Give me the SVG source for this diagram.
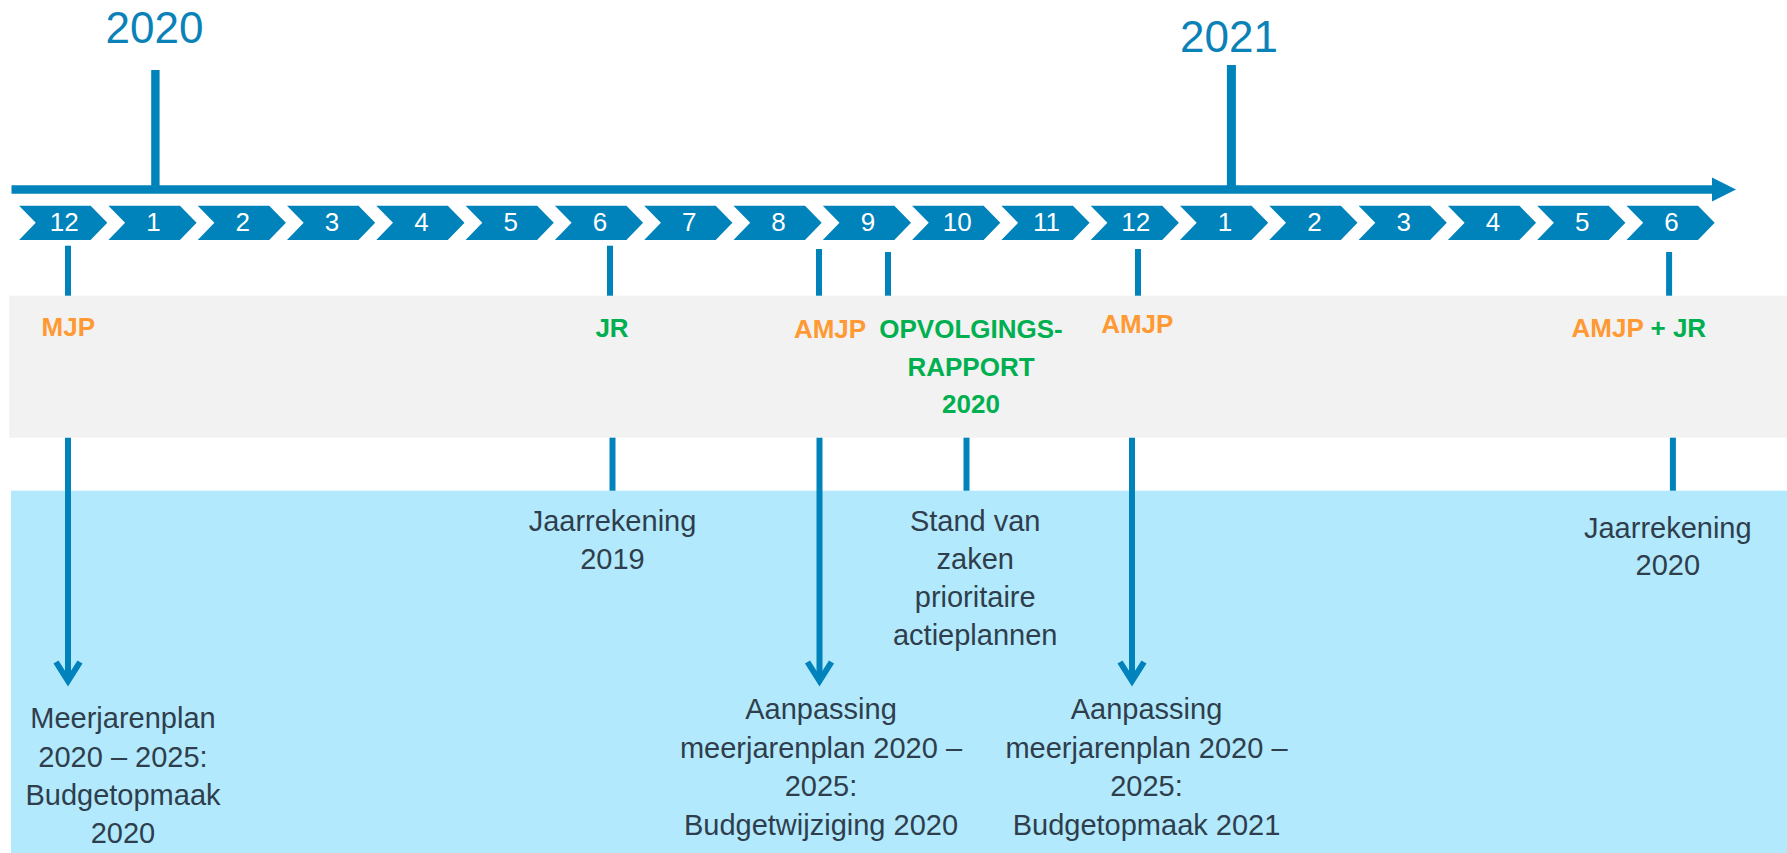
<svg xmlns="http://www.w3.org/2000/svg" xmlns:xlink="http://www.w3.org/1999/xlink" width="1787" height="853" viewBox="0 0 1787 853">
<style>
.bg{fill:#FFFFFF}
.grey{fill:#F2F2F2}
.lblue{fill:#B3E9FD}
.chev{fill:#0082BA}
.num{font-family:"Liberation Sans",Arial,sans-serif;font-size:26px;fill:#FFFFFF;text-anchor:middle}
.year{font-family:"Liberation Sans",Arial,sans-serif;font-size:44px;fill:#0A82B8;text-anchor:middle}
.tick{stroke:#0082BA;stroke-width:6;fill:none}
.head{stroke:#0082BA;stroke-width:6;fill:none;stroke-linejoin:miter;stroke-miterlimit:10}
.lab{font-family:"Liberation Sans",Arial,sans-serif;font-size:26px;font-weight:bold;text-anchor:middle}
.or{fill:#FF9933}
.gr{fill:#00B050}
.desc{font-family:"Liberation Sans",Arial,sans-serif;font-size:29px;fill:#2F3E4C;text-anchor:middle}
</style>
<defs>
<path id="chev" d="M0,0 H71.5 L88.2,17.15 L71.5,34.3 H0 L16.7,17.15 Z"/>
</defs>
<rect class="bg" x="0" y="0" width="1787" height="853"/>
<g id="bands">
<rect class="grey" x="9.2" y="295.7" width="1777.8" height="142"/>
<rect class="lblue" x="11" y="490.7" width="1776" height="362.3"/>
</g>
<g id="axis">
<line x1="11.5" y1="189.5" x2="1714" y2="189.5" stroke="#0082BA" stroke-width="8.3"/>
<polygon points="1712,177.5 1736,189.5 1712,201.5" fill="#0082BA"/>
<line x1="155.4" y1="70" x2="155.4" y2="190" stroke="#0082BA" stroke-width="8.4"/>
<line x1="1231.4" y1="65" x2="1231.4" y2="190" stroke="#0082BA" stroke-width="9"/>
</g>
<g id="year-2020"><text class="year" x="154.5" y="43.3">2020</text></g>
<g id="year-2021"><text class="year" x="1229" y="51.7">2021</text></g>
<g id="months">
<g id="m0"><use xlink:href="#chev" href="#chev" x="19.1" y="205.7" class="chev"/><text class="num" x="64.2" y="230.7">12</text></g>
<g id="m1"><use xlink:href="#chev" href="#chev" x="108.4" y="205.7" class="chev"/><text class="num" x="153.5" y="230.7">1</text></g>
<g id="m2"><use xlink:href="#chev" href="#chev" x="197.7" y="205.7" class="chev"/><text class="num" x="242.8" y="230.7">2</text></g>
<g id="m3"><use xlink:href="#chev" href="#chev" x="287" y="205.7" class="chev"/><text class="num" x="332.1" y="230.7">3</text></g>
<g id="m4"><use xlink:href="#chev" href="#chev" x="376.3" y="205.7" class="chev"/><text class="num" x="421.4" y="230.7">4</text></g>
<g id="m5"><use xlink:href="#chev" href="#chev" x="465.6" y="205.7" class="chev"/><text class="num" x="510.7" y="230.7">5</text></g>
<g id="m6"><use xlink:href="#chev" href="#chev" x="554.9" y="205.7" class="chev"/><text class="num" x="600" y="230.7">6</text></g>
<g id="m7"><use xlink:href="#chev" href="#chev" x="644.2" y="205.7" class="chev"/><text class="num" x="689.3" y="230.7">7</text></g>
<g id="m8"><use xlink:href="#chev" href="#chev" x="733.5" y="205.7" class="chev"/><text class="num" x="778.6" y="230.7">8</text></g>
<g id="m9"><use xlink:href="#chev" href="#chev" x="822.8" y="205.7" class="chev"/><text class="num" x="867.9" y="230.7">9</text></g>
<g id="m10"><use xlink:href="#chev" href="#chev" x="912.1" y="205.7" class="chev"/><text class="num" x="957.2" y="230.7">10</text></g>
<g id="m11"><use xlink:href="#chev" href="#chev" x="1001.4" y="205.7" class="chev"/><text class="num" x="1046.5" y="230.7">11</text></g>
<g id="m12"><use xlink:href="#chev" href="#chev" x="1090.7" y="205.7" class="chev"/><text class="num" x="1135.8" y="230.7">12</text></g>
<g id="m13"><use xlink:href="#chev" href="#chev" x="1180" y="205.7" class="chev"/><text class="num" x="1225.1" y="230.7">1</text></g>
<g id="m14"><use xlink:href="#chev" href="#chev" x="1269.3" y="205.7" class="chev"/><text class="num" x="1314.4" y="230.7">2</text></g>
<g id="m15"><use xlink:href="#chev" href="#chev" x="1358.6" y="205.7" class="chev"/><text class="num" x="1403.7" y="230.7">3</text></g>
<g id="m16"><use xlink:href="#chev" href="#chev" x="1447.9" y="205.7" class="chev"/><text class="num" x="1493" y="230.7">4</text></g>
<g id="m17"><use xlink:href="#chev" href="#chev" x="1537.2" y="205.7" class="chev"/><text class="num" x="1582.3" y="230.7">5</text></g>
<g id="m18"><use xlink:href="#chev" href="#chev" x="1626.5" y="205.7" class="chev"/><text class="num" x="1671.6" y="230.7">6</text></g>
</g>
<g id="connectors">
<line class="tick" x1="68" y1="245.7" x2="68" y2="295.7"/>
<line class="tick" x1="610" y1="245.7" x2="610" y2="295.7"/>
<line class="tick" x1="819" y1="249" x2="819" y2="295.7"/>
<line class="tick" x1="888" y1="252" x2="888" y2="295.7"/>
<line class="tick" x1="1138" y1="249" x2="1138" y2="295.7"/>
<line class="tick" x1="1669.1" y1="252" x2="1669.1" y2="295.7"/>
<line class="tick" x1="68" y1="437.7" x2="68" y2="680"/>
<polyline class="head" points="56,662 68,681 80,662"/>
<line class="tick" x1="612.5" y1="437.7" x2="612.5" y2="490.7"/>
<line class="tick" x1="819.5" y1="437.7" x2="819.5" y2="680"/>
<polyline class="head" points="807.5,662 819.5,681 831.5,662"/>
<line class="tick" x1="966.5" y1="437.7" x2="966.5" y2="490.7"/>
<line class="tick" x1="1132" y1="437.7" x2="1132" y2="680"/>
<polyline class="head" points="1120,662 1132,681 1144,662"/>
<line class="tick" x1="1672.9" y1="437.7" x2="1672.9" y2="490.7"/>
</g>
<g id="mjp"><text class="lab or" x="68.3" y="335.7">MJP</text></g>
<g id="jr"><text class="lab gr" x="612" y="336.5">JR</text></g>
<g id="amjp1"><text class="lab or" x="830" y="338.3">AMJP</text></g>
<g id="opvolging"><text class="lab gr" x="971" y="338.3">OPVOLGINGS-</text><text class="lab gr" x="971" y="376">RAPPORT</text><text class="lab gr" x="971" y="413.3">2020</text></g>
<g id="amjp2"><text class="lab or" x="1137.3" y="333.3">AMJP</text></g>
<g id="amjp-jr"><text class="lab" x="1571.5" y="337.3" style="text-anchor:start"><tspan class="or">AMJP</tspan><tspan class="gr"> + JR</tspan></text></g>
<g id="desc-mjp"><text class="desc" x="123" y="728.3">Meerjarenplan</text><text class="desc" x="123" y="766.7">2020 – 2025:</text><text class="desc" x="123" y="805">Budgetopmaak</text><text class="desc" x="123" y="843.3">2020</text></g>
<g id="desc-jr2019"><text class="desc" x="612.5" y="530.5">Jaarrekening</text><text class="desc" x="612.5" y="568.5">2019</text></g>
<g id="desc-amjp1"><text class="desc" x="821" y="719.3">Aanpassing</text><text class="desc" x="821" y="757.7">meerjarenplan 2020 –</text><text class="desc" x="821" y="796">2025:</text><text class="desc" x="821" y="834.5">Budgetwijziging 2020</text></g>
<g id="desc-opv"><text class="desc" x="975.2" y="530.7">Stand van</text><text class="desc" x="975.2" y="568.5">zaken</text><text class="desc" x="975.2" y="606.7">prioritaire</text><text class="desc" x="975.2" y="645">actieplannen</text></g>
<g id="desc-amjp2"><text class="desc" x="1146.5" y="719.3">Aanpassing</text><text class="desc" x="1146.5" y="757.7">meerjarenplan 2020 –</text><text class="desc" x="1146.5" y="796">2025:</text><text class="desc" x="1146.5" y="834.5">Budgetopmaak 2021</text></g>
<g id="desc-jr2020"><text class="desc" x="1667.8" y="538.3">Jaarrekening</text><text class="desc" x="1667.8" y="575">2020</text></g>
</svg>
